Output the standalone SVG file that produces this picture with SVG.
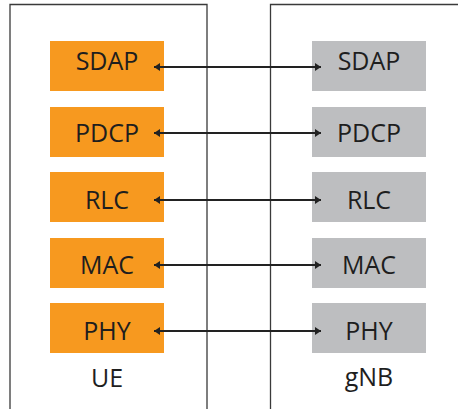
<svg xmlns="http://www.w3.org/2000/svg" width="458" height="409" viewBox="0 0 458 409">
  <defs>
    <style>
      .frame { fill: none; stroke: #3a3a3a; stroke-width: 1.3; }
      .ue { fill: #F7991F; }
      .gnb { fill: #BDBEC0; }
      .lbl { font-family: "Open Sans", "DejaVu Sans", sans-serif; font-size: 25px; fill: #1e1e1e; text-anchor: middle; }
      .link { stroke: #222222; stroke-width: 2; fill: none; marker-start: url(#headL); marker-end: url(#headR); }
    </style>
    <marker id="headR" markerWidth="6" markerHeight="8" refX="6" refY="4" orient="auto" markerUnits="userSpaceOnUse">
      <path d="M0,0 L6,4 L0,8 Z" fill="#222222"/>
    </marker>
    <marker id="headL" markerWidth="6" markerHeight="8" refX="0" refY="4" orient="auto" markerUnits="userSpaceOnUse">
      <path d="M6,0 L0,4 L6,8 Z" fill="#222222"/>
    </marker>
  </defs>
  <rect width="458" height="409" fill="#ffffff"/>

  <!-- UE side -->
  <g id="ue">
    <path class="frame" d="M10,412 V4.5 H207 V412"/>
    <text class="lbl" x="107" y="387">UE</text>
  </g>
  <g id="ue-sdap"><rect class="ue" x="50" y="41" width="114" height="50"/><text class="lbl" x="107" y="69.5">SDAP</text></g>
  <g id="ue-pdcp"><rect class="ue" x="50" y="107" width="114" height="50"/><text class="lbl" x="107" y="142">PDCP</text></g>
  <g id="ue-rlc"><rect class="ue" x="50" y="172" width="114" height="50"/><text class="lbl" x="107" y="209">RLC</text></g>
  <g id="ue-mac"><rect class="ue" x="50" y="238" width="114" height="50"/><text class="lbl" x="107" y="274">MAC</text></g>
  <g id="ue-phy"><rect class="ue" x="50" y="303" width="114" height="50"/><text class="lbl" x="107" y="339.5">PHY</text></g>

  <!-- gNB side -->
  <g id="gnb">
    <path class="frame" d="M270.5,412 V4.5 H462"/>
    <text class="lbl" x="369" y="386">gNB</text>
  </g>
  <g id="gnb-sdap"><rect class="gnb" x="312" y="41" width="114" height="50"/><text class="lbl" x="369" y="69.5">SDAP</text></g>
  <g id="gnb-pdcp"><rect class="gnb" x="312" y="107" width="114" height="50"/><text class="lbl" x="369" y="142">PDCP</text></g>
  <g id="gnb-rlc"><rect class="gnb" x="312" y="172" width="114" height="50"/><text class="lbl" x="369" y="209">RLC</text></g>
  <g id="gnb-mac"><rect class="gnb" x="312" y="238" width="114" height="50"/><text class="lbl" x="369" y="274">MAC</text></g>
  <g id="gnb-phy"><rect class="gnb" x="312" y="303" width="114" height="50"/><text class="lbl" x="369" y="339.5">PHY</text></g>

  <!-- peer-to-peer links between matching layers -->
  <g id="connectors">
    <line class="link" x1="154" y1="67" x2="321" y2="67"/>
    <line class="link" x1="154" y1="133" x2="321" y2="133"/>
    <line class="link" x1="154" y1="200" x2="321" y2="200"/>
    <line class="link" x1="154" y1="265" x2="321" y2="265"/>
    <line class="link" x1="154" y1="331" x2="321" y2="331"/>
  </g>
</svg>
